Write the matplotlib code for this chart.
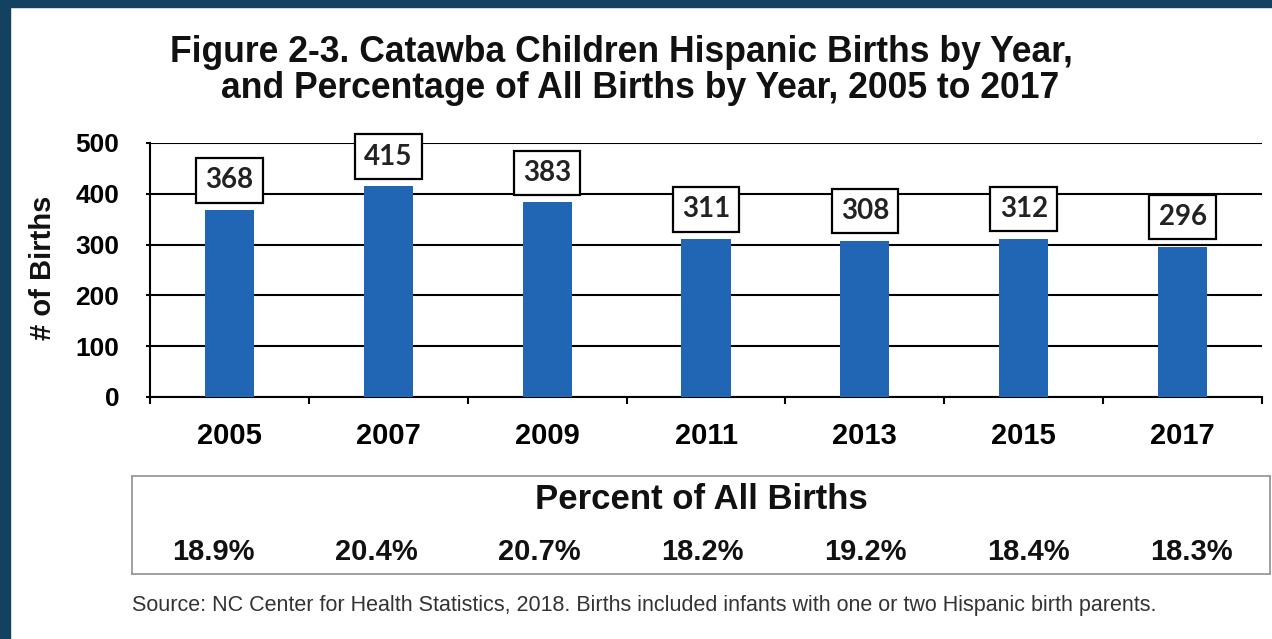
import matplotlib.pyplot as plt
import matplotlib.patches as mpatches
import numpy as np

# data
years = ['2005', '2007', '2009', '2011', '2013', '2015', '2017']
births = [368, 415, 383, 311, 308, 312, 296]
pct_all = ['18.9%', '20.4%', '20.7%', '18.2%', '19.2%', '18.4%', '18.3%']
y_ticks = [0, 100, 200, 300, 400, 500]

W, H = 1272, 639
fig = plt.figure(figsize=(W / 100, H / 100), dpi=100)
fig.patch.set_facecolor('white')

# dark blue slide frame (top and left strips)
frame = '#12425f'
fig.add_artist(mpatches.Rectangle((0, 1 - 7 / H), 1, 7 / H, transform=fig.transFigure,
                                  color=frame, zorder=0))
fig.add_artist(mpatches.Rectangle((0, 0), 10 / W, 1, transform=fig.transFigure,
                                  color=frame, zorder=0))

hfont = 'Liberation Sans'

# title
fig.text(621 / W, 1 - 52 / H, 'Figure 2-3. Catawba Children Hispanic Births by Year,',
         ha='center', va='center', fontsize=25.6, fontweight='bold', family=hfont, color='#111')
fig.text(640 / W, 1 - 88 / H, 'and Percentage of All Births by Year, 2005 to 2017',
         ha='center', va='center', fontsize=25.6, fontweight='bold', family=hfont, color='#111')

# main bar chart
ax = fig.add_axes([150 / W, 1 - 397 / H, 1112 / W, 254 / H])
x = np.arange(len(years))
ax.bar(x, births, width=0.31, color='#2166b4', zorder=3)

ax.set_xlim(-0.5, len(years) - 0.5)
ax.set_ylim(0, 500)
ax.set_yticks(y_ticks)
ax.set_yticklabels([str(v) for v in y_ticks], fontsize=19, fontweight='bold', family=hfont)
ax.set_xticks(x)
ax.set_xticklabels(years, fontsize=21, fontweight='bold', family=hfont)
ax.set_xticks(np.arange(len(years) + 1) - 0.5, minor=True)
ax.tick_params(axis='x', which='major', length=0, pad=18)
ax.tick_params(axis='x', which='minor', length=5, width=1.5, direction='out')
ax.tick_params(axis='y', length=3, width=1.5, pad=19)

ax.yaxis.grid(True, color='black', lw=1.5, zorder=1)
ax.set_axisbelow(True)
for s in ['top', 'right']:
    ax.spines[s].set_visible(False)
for s in ['left', 'bottom']:
    ax.spines[s].set_linewidth(1.5)
    ax.spines[s].set_color('black')

fig.text(43 / W, 1 - 268 / H, '# of Births', rotation=90, ha='center', va='center',
         fontsize=21, fontweight='bold', family=hfont, color='#111')

# boxed value labels
for xi, v in zip(x, births):
    ax.annotate(str(v), xy=(xi, v), xytext=(0, 12), textcoords='offset points',
                ha='center', va='bottom', fontsize=20, fontweight='bold', family='Lato',
                color='#222', zorder=5, annotation_clip=False,
                bbox=dict(boxstyle='square,pad=0.33', fc='white', ec='black', lw=1.6))

# percent table below the chart
tx = fig.add_axes([132 / W, 1 - 574 / H, 1138 / W, 98 / H])
tx.set_xticks([])
tx.set_yticks([])
for s in tx.spines.values():
    s.set_color('#999999')
    s.set_linewidth(1.3)
tx.set_xlim(0, 1)
tx.set_ylim(0, 1)
tx.text(0.5, 0.76, 'Percent of All Births', ha='center', va='center',
        fontsize=25, fontweight='bold', family=hfont, color='#111')
pos = (np.linspace(213, 1191, len(pct_all)) - 132) / 1138
for px, p in zip(pos, pct_all):
    tx.text(px, 0.22, p, ha='center', va='center', fontsize=21,
            fontweight='bold', family=hfont, color='#111')

fig.text(132 / W, 1 - 605 / H,
         'Source: NC Center for Health Statistics, 2018. Births included infants with one or two Hispanic birth parents.',
         ha='left', va='center', fontsize=15.5, family=hfont, color='#333')

fig.savefig('out.png', dpi=100)
